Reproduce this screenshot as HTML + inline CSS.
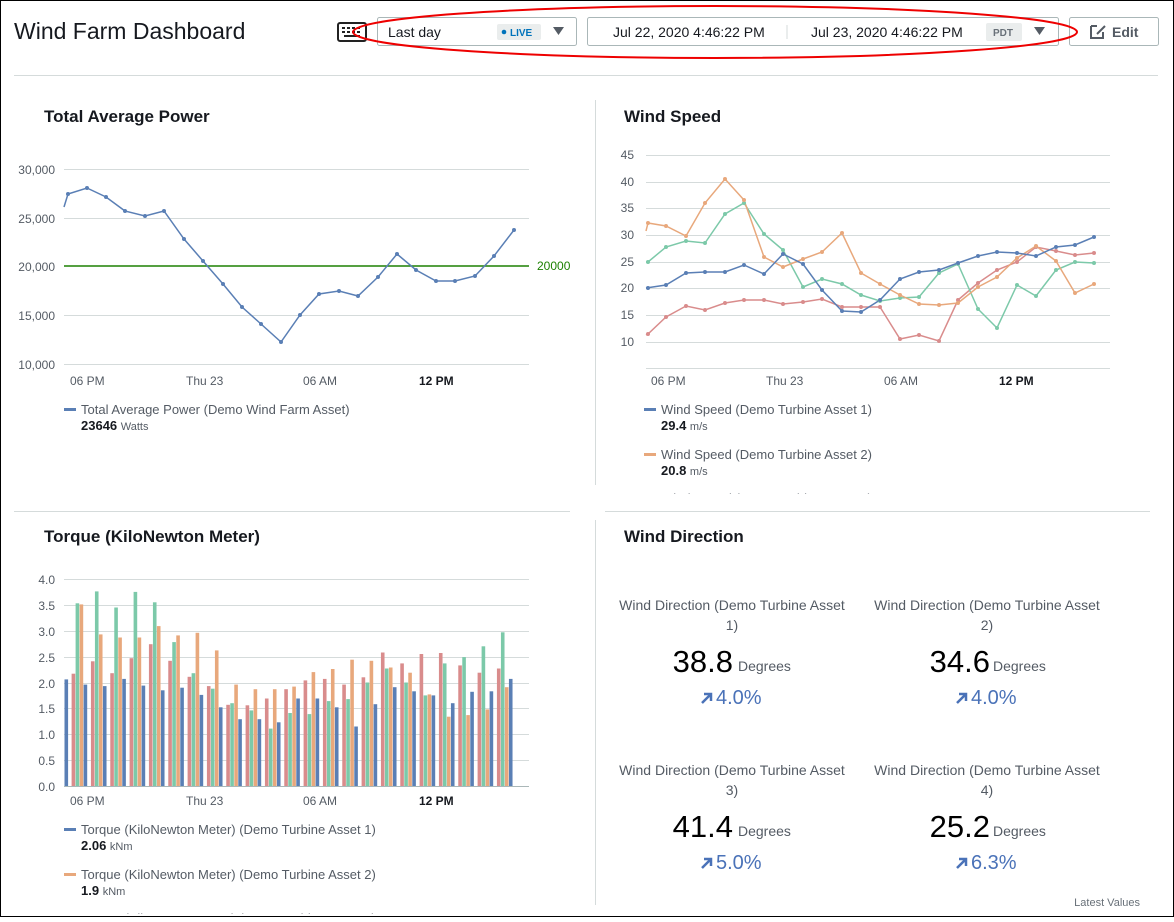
<!DOCTYPE html>
<html><head><meta charset="utf-8"><style>
body{margin:0;width:1174px;height:917px;overflow:hidden;background:#fff;font-family:"Liberation Sans",sans-serif;}
svg text{font-family:"Liberation Sans",sans-serif;}
</style></head><body>
<svg width="1174" height="917" xmlns="http://www.w3.org/2000/svg">
<defs>
<clipPath id="c1"><rect x="600" y="480" width="400" height="14"/></clipPath>
<clipPath id="c2"><rect x="40" y="900" width="500" height="14"/></clipPath>
</defs>
<rect x="0.5" y="0.5" width="1173" height="916" fill="#fff" stroke="#000"/>
<text x="14" y="39" font-size="23" fill="#16191f">Wind Farm Dashboard</text>
<rect x="338" y="23" width="28" height="18" rx="2" fill="#fff" stroke="#222" stroke-width="2"/>
<g fill="#222"><rect x="342" y="27" width="3" height="2"/><rect x="347" y="27" width="3" height="2"/><rect x="352" y="27" width="3" height="2"/><rect x="357" y="27" width="3" height="2"/><rect x="342" y="31" width="3" height="2"/><rect x="347" y="31" width="3" height="2"/><rect x="352" y="31" width="3" height="2"/><rect x="357" y="31" width="3" height="2"/><rect x="344" y="35" width="16" height="2"/></g>
<rect x="377.5" y="17.5" width="199" height="28" rx="2" fill="#fff" stroke="#aab7b8"/>
<text x="388" y="37" font-size="14" fill="#16191f">Last day</text>
<rect x="497" y="24" width="44" height="16" rx="2" fill="#eaeded"/>
<circle cx="504" cy="32" r="2.3" fill="#0073bb"/>
<text x="510" y="36" font-size="10" fill="#0073bb" font-weight="bold">LIVE</text>
<path d="M553 27h11l-5.5 8z" fill="#545b64"/>
<rect x="587.5" y="17.5" width="471" height="28" rx="2" fill="#fff" stroke="#aab7b8"/>
<text x="613" y="37" font-size="14" fill="#16191f">Jul 22, 2020 4:46:22 PM</text>
<line x1="787" y1="25" x2="787" y2="39" stroke="#d5dbdb"/>
<text x="811" y="37" font-size="14" fill="#16191f">Jul 23, 2020 4:46:22 PM</text>
<rect x="986" y="23" width="36" height="18" rx="2" fill="#eaeded"/>
<text x="993" y="36" font-size="10" fill="#687078" font-weight="bold">PDT</text>
<path d="M1034 27h11l-5.5 8z" fill="#545b64"/>
<rect x="1069.5" y="17.5" width="89" height="28" rx="2" fill="#fff" stroke="#aab7b8"/>
<path d="M1091 26h6M1091 26v12h12v-6M1097 34l8-8" stroke="#545b64" stroke-width="2" fill="none"/>
<text x="1112" y="37" font-size="14" fill="#545b64" font-weight="bold">Edit</text>
<ellipse cx="715" cy="32" rx="362" ry="26" fill="none" stroke="#e00" stroke-width="2"/>
<line x1="14" y1="75.5" x2="1158" y2="75.5" stroke="#d5dbdb"/>
<line x1="595.5" y1="100" x2="595.5" y2="485" stroke="#d5dbdb"/>
<line x1="595.5" y1="520" x2="595.5" y2="905" stroke="#d5dbdb"/>
<line x1="14" y1="511.5" x2="570" y2="511.5" stroke="#d5dbdb"/>
<line x1="605" y1="511.5" x2="1150" y2="511.5" stroke="#d5dbdb"/>

<text x="44" y="122" font-size="17" font-weight="bold" fill="#16191f">Total Average Power</text>
<g stroke="#d5dbdb"><line x1="64" y1="169.5" x2="529" y2="169.5"/><line x1="64" y1="218.5" x2="529" y2="218.5"/><line x1="64" y1="315.5" x2="529" y2="315.5"/><line x1="64" y1="364.5" x2="529" y2="364.5"/></g>
<g font-size="12" fill="#545b64" text-anchor="end"><text x="55" y="174">30,000</text><text x="55" y="223">25,000</text><text x="55" y="271">20,000</text><text x="55" y="320">15,000</text><text x="55" y="369">10,000</text></g>
<line x1="64" y1="266" x2="529" y2="266" stroke="#1d8102" stroke-width="1.5"/>
<text x="537" y="270" font-size="12" fill="#1d8102">20000</text>
<polyline fill="none" stroke="#5a7fb5" stroke-width="1.5" points="64,207 68,194 87,188 106,197 125,211 145,216 164,211 184,239 203,261 223,284 242,307 261,324 281,342 300,315 319,294 339,291 358,296 378,277 397,254 416,270 436,281 455,281 475,276 494,256 514,230"/>
<g fill="#5a7fb5"><circle cx="68" cy="194" r="2"/><circle cx="87" cy="188" r="2"/><circle cx="106" cy="197" r="2"/><circle cx="125" cy="211" r="2"/><circle cx="145" cy="216" r="2"/><circle cx="164" cy="211" r="2"/><circle cx="184" cy="239" r="2"/><circle cx="203" cy="261" r="2"/><circle cx="223" cy="284" r="2"/><circle cx="242" cy="307" r="2"/><circle cx="261" cy="324" r="2"/><circle cx="281" cy="342" r="2"/><circle cx="300" cy="315" r="2"/><circle cx="319" cy="294" r="2"/><circle cx="339" cy="291" r="2"/><circle cx="358" cy="296" r="2"/><circle cx="378" cy="277" r="2"/><circle cx="397" cy="254" r="2"/><circle cx="416" cy="270" r="2"/><circle cx="436" cy="281" r="2"/><circle cx="455" cy="281" r="2"/><circle cx="475" cy="276" r="2"/><circle cx="494" cy="256" r="2"/><circle cx="514" cy="230" r="2"/></g>
<g font-size="12" fill="#545b64"><text x="70" y="385">06 PM</text><text x="186" y="385">Thu 23</text><text x="303" y="385">06 AM</text><text x="419" y="385" font-weight="bold" fill="#16191f">12 PM</text></g>
<rect x="64" y="408" width="12" height="3" fill="#5a7fb5"/>
<text x="81" y="414" font-size="13" fill="#545b64">Total Average Power (Demo Wind Farm Asset)</text>
<text x="81" y="430" font-size="13" font-weight="bold" fill="#16191f">23646 <tspan font-size="11" font-weight="normal" fill="#545b64">Watts</tspan></text>

<text x="624" y="122" font-size="17" font-weight="bold" fill="#16191f">Wind Speed</text>
<g stroke="#d5dbdb"><line x1="646" y1="155.5" x2="1110" y2="155.5"/><line x1="646" y1="182.5" x2="1110" y2="182.5"/><line x1="646" y1="208.5" x2="1110" y2="208.5"/><line x1="646" y1="235.5" x2="1110" y2="235.5"/><line x1="646" y1="262.5" x2="1110" y2="262.5"/><line x1="646" y1="288.5" x2="1110" y2="288.5"/><line x1="646" y1="315.5" x2="1110" y2="315.5"/><line x1="646" y1="342.5" x2="1110" y2="342.5"/><line x1="646" y1="368.5" x2="1110" y2="368.5"/></g>
<g font-size="12" fill="#545b64" text-anchor="end"><text x="634" y="159">45</text><text x="634" y="186">40</text><text x="634" y="212">35</text><text x="634" y="239">30</text><text x="634" y="266">25</text><text x="634" y="292">20</text><text x="634" y="319">15</text><text x="634" y="346">10</text></g>
<g fill="none" stroke-width="1.5" stroke-dasharray="">
<polyline stroke="#d98c8c" points="646,335 648,334 666,317 686,306 705,310 725,303 744,300 764,300 783,304 803,302 822,299 842,307 861,307 880,307 900,339 919,335 939,341 958,300 978,283 997,270 1017,262 1036,247 1056,251 1075,255 1094,253"/>
<polyline stroke="#7cc9a9" points="646,262 648,262 666,247 686,241 705,243 725,214 744,203 764,234 783,250 803,287 822,279 842,284 861,295 880,301 900,298 919,297 939,273 958,264 978,309 997,328 1017,285 1036,296 1056,270 1075,262 1094,263"/>
<polyline stroke="#e8a87c" points="646,231 648,223 666,226 686,236 705,203 725,179 744,200 764,257 783,267 803,259 822,252 842,233 861,273 880,284 900,295 919,304 939,305 958,303 978,287 997,277 1017,258 1036,246 1056,261 1075,293 1094,284"/>
<polyline stroke="#5a7fb5" points="646,288 666,285 686,273 705,272 725,272 744,265 764,274 783,254 803,264 822,290 842,311 861,312 880,300 900,279 919,272 939,270 958,263 978,256 997,252 1017,253 1036,256 1056,247 1075,245 1094,237"/>
</g>
<g fill="#d98c8c"><circle cx="648" cy="334" r="2"/><circle cx="666" cy="317" r="2"/><circle cx="686" cy="306" r="2"/><circle cx="705" cy="310" r="2"/><circle cx="725" cy="303" r="2"/><circle cx="744" cy="300" r="2"/><circle cx="764" cy="300" r="2"/><circle cx="783" cy="304" r="2"/><circle cx="803" cy="302" r="2"/><circle cx="822" cy="299" r="2"/><circle cx="842" cy="307" r="2"/><circle cx="861" cy="307" r="2"/><circle cx="880" cy="307" r="2"/><circle cx="900" cy="339" r="2"/><circle cx="919" cy="335" r="2"/><circle cx="939" cy="341" r="2"/><circle cx="958" cy="300" r="2"/><circle cx="978" cy="283" r="2"/><circle cx="997" cy="270" r="2"/><circle cx="1017" cy="262" r="2"/><circle cx="1036" cy="247" r="2"/><circle cx="1056" cy="251" r="2"/><circle cx="1075" cy="255" r="2"/><circle cx="1094" cy="253" r="2"/></g>
<g fill="#7cc9a9"><circle cx="648" cy="262" r="2"/><circle cx="666" cy="247" r="2"/><circle cx="686" cy="241" r="2"/><circle cx="705" cy="243" r="2"/><circle cx="725" cy="214" r="2"/><circle cx="744" cy="203" r="2"/><circle cx="764" cy="234" r="2"/><circle cx="783" cy="250" r="2"/><circle cx="803" cy="287" r="2"/><circle cx="822" cy="279" r="2"/><circle cx="842" cy="284" r="2"/><circle cx="861" cy="295" r="2"/><circle cx="880" cy="301" r="2"/><circle cx="900" cy="298" r="2"/><circle cx="919" cy="297" r="2"/><circle cx="939" cy="273" r="2"/><circle cx="958" cy="264" r="2"/><circle cx="978" cy="309" r="2"/><circle cx="997" cy="328" r="2"/><circle cx="1017" cy="285" r="2"/><circle cx="1036" cy="296" r="2"/><circle cx="1056" cy="270" r="2"/><circle cx="1075" cy="262" r="2"/><circle cx="1094" cy="263" r="2"/></g>
<g fill="#e8a87c"><circle cx="648" cy="223" r="2"/><circle cx="666" cy="226" r="2"/><circle cx="686" cy="236" r="2"/><circle cx="705" cy="203" r="2"/><circle cx="725" cy="179" r="2"/><circle cx="744" cy="200" r="2"/><circle cx="764" cy="257" r="2"/><circle cx="783" cy="267" r="2"/><circle cx="803" cy="259" r="2"/><circle cx="822" cy="252" r="2"/><circle cx="842" cy="233" r="2"/><circle cx="861" cy="273" r="2"/><circle cx="880" cy="284" r="2"/><circle cx="900" cy="295" r="2"/><circle cx="919" cy="304" r="2"/><circle cx="939" cy="305" r="2"/><circle cx="958" cy="303" r="2"/><circle cx="978" cy="287" r="2"/><circle cx="997" cy="277" r="2"/><circle cx="1017" cy="258" r="2"/><circle cx="1036" cy="246" r="2"/><circle cx="1056" cy="261" r="2"/><circle cx="1075" cy="293" r="2"/><circle cx="1094" cy="284" r="2"/></g>
<g fill="#5a7fb5"><circle cx="648" cy="288" r="2"/><circle cx="666" cy="285" r="2"/><circle cx="686" cy="273" r="2"/><circle cx="705" cy="272" r="2"/><circle cx="725" cy="272" r="2"/><circle cx="744" cy="265" r="2"/><circle cx="764" cy="274" r="2"/><circle cx="783" cy="254" r="2"/><circle cx="803" cy="264" r="2"/><circle cx="822" cy="290" r="2"/><circle cx="842" cy="311" r="2"/><circle cx="861" cy="312" r="2"/><circle cx="880" cy="300" r="2"/><circle cx="900" cy="279" r="2"/><circle cx="919" cy="272" r="2"/><circle cx="939" cy="270" r="2"/><circle cx="958" cy="263" r="2"/><circle cx="978" cy="256" r="2"/><circle cx="997" cy="252" r="2"/><circle cx="1017" cy="253" r="2"/><circle cx="1036" cy="256" r="2"/><circle cx="1056" cy="247" r="2"/><circle cx="1075" cy="245" r="2"/><circle cx="1094" cy="237" r="2"/></g>
<g font-size="12" fill="#545b64"><text x="651" y="385">06 PM</text><text x="766" y="385">Thu 23</text><text x="884" y="385">06 AM</text><text x="999" y="385" font-weight="bold" fill="#16191f">12 PM</text></g>
<rect x="644" y="408" width="12" height="3" fill="#5a7fb5"/>
<text x="661" y="414" font-size="13" fill="#545b64">Wind Speed (Demo Turbine Asset 1)</text>
<text x="661" y="430" font-size="13" font-weight="bold" fill="#16191f">29.4 <tspan font-size="11" font-weight="normal" fill="#545b64">m/s</tspan></text>
<rect x="644" y="453" width="12" height="3" fill="#e8a87c"/>
<text x="661" y="459" font-size="13" fill="#545b64">Wind Speed (Demo Turbine Asset 2)</text>
<text x="661" y="475" font-size="13" font-weight="bold" fill="#16191f">20.8 <tspan font-size="11" font-weight="normal" fill="#545b64">m/s</tspan></text>
<text x="661" y="503" font-size="13" fill="#545b64" clip-path="url(#c1)">Wind Speed (Demo Turbine Asset 3)</text>

<text x="44" y="542" font-size="17" font-weight="bold" fill="#16191f">Torque (KiloNewton Meter)</text>
<g stroke="#d5dbdb"><line x1="64" y1="579.5" x2="529" y2="579.5"/><line x1="64" y1="605.5" x2="529" y2="605.5"/><line x1="64" y1="631.5" x2="529" y2="631.5"/><line x1="64" y1="657.5" x2="529" y2="657.5"/><line x1="64" y1="683.5" x2="529" y2="683.5"/><line x1="64" y1="708.5" x2="529" y2="708.5"/><line x1="64" y1="734.5" x2="529" y2="734.5"/><line x1="64" y1="760.5" x2="529" y2="760.5"/><line x1="64" y1="786.5" x2="529" y2="786.5" stroke="#aab7b8"/></g>
<g font-size="12" fill="#545b64" text-anchor="end"><text x="55" y="584">4.0</text><text x="55" y="610">3.5</text><text x="55" y="636">3.0</text><text x="55" y="662">2.5</text><text x="55" y="688">2.0</text><text x="55" y="713">1.5</text><text x="55" y="739">1.0</text><text x="55" y="765">0.5</text><text x="55" y="791">0.0</text></g>
<g transform="translate(0,786) scale(1,-1)">
<rect x="64.5" y="0" width="3.6" height="106.6" fill="#5a7fb5"/>
<g transform="translate(0,0)"><rect x="71.6" width="3.6" height="112.3" fill="#d98c8c"/><rect x="75.6" width="3.6" height="182.7" fill="#7cc9a9"/><rect x="79.6" width="3.6" height="181.6" fill="#e8a87c"/><rect x="83.6" width="3.6" height="101.4" fill="#5a7fb5"/></g>
<g transform="translate(19.33,0)"><rect x="71.6" width="3.6" height="124.7" fill="#d98c8c"/><rect x="75.6" width="3.6" height="194.6" fill="#7cc9a9"/><rect x="79.6" width="3.6" height="151.6" fill="#e8a87c"/><rect x="83.6" width="3.6" height="99.9" fill="#5a7fb5"/></g>
<g transform="translate(38.67,0)"><rect x="71.6" width="3.6" height="112.8" fill="#d98c8c"/><rect x="75.6" width="3.6" height="178.5" fill="#7cc9a9"/><rect x="79.6" width="3.6" height="148.5" fill="#e8a87c"/><rect x="83.6" width="3.6" height="107.1" fill="#5a7fb5"/></g>
<g transform="translate(58,0)"><rect x="71.6" width="3.6" height="127.8" fill="#d98c8c"/><rect x="75.6" width="3.6" height="194.1" fill="#7cc9a9"/><rect x="79.6" width="3.6" height="148.5" fill="#e8a87c"/><rect x="83.6" width="3.6" height="100.4" fill="#5a7fb5"/></g>
<g transform="translate(77.33,0)"><rect x="71.6" width="3.6" height="141.8" fill="#d98c8c"/><rect x="75.6" width="3.6" height="183.7" fill="#7cc9a9"/><rect x="79.6" width="3.6" height="159.9" fill="#e8a87c"/><rect x="83.6" width="3.6" height="95.7" fill="#5a7fb5"/></g>
<g transform="translate(96.67,0)"><rect x="71.6" width="3.6" height="125.2" fill="#d98c8c"/><rect x="75.6" width="3.6" height="143.9" fill="#7cc9a9"/><rect x="79.6" width="3.6" height="150.6" fill="#e8a87c"/><rect x="83.6" width="3.6" height="98.3" fill="#5a7fb5"/></g>
<g transform="translate(116,0)"><rect x="71.6" width="3.6" height="109.2" fill="#d98c8c"/><rect x="75.6" width="3.6" height="112.8" fill="#7cc9a9"/><rect x="79.6" width="3.6" height="153.2" fill="#e8a87c"/><rect x="83.6" width="3.6" height="91.1" fill="#5a7fb5"/></g>
<g transform="translate(135.33,0)"><rect x="71.6" width="3.6" height="99.9" fill="#d98c8c"/><rect x="75.6" width="3.6" height="97.3" fill="#7cc9a9"/><rect x="79.6" width="3.6" height="135.6" fill="#e8a87c"/><rect x="83.6" width="3.6" height="78.7" fill="#5a7fb5"/></g>
<g transform="translate(154.67,0)"><rect x="71.6" width="3.6" height="81.2" fill="#d98c8c"/><rect x="75.6" width="3.6" height="82.8" fill="#7cc9a9"/><rect x="79.6" width="3.6" height="101.4" fill="#e8a87c"/><rect x="83.6" width="3.6" height="66.8" fill="#5a7fb5"/></g>
<g transform="translate(174,0)"><rect x="71.6" width="3.6" height="80.7" fill="#d98c8c"/><rect x="75.6" width="3.6" height="75.6" fill="#7cc9a9"/><rect x="79.6" width="3.6" height="96.8" fill="#e8a87c"/><rect x="83.6" width="3.6" height="66.8" fill="#5a7fb5"/></g>
<g transform="translate(193.33,0)"><rect x="71.6" width="3.6" height="87.5" fill="#d98c8c"/><rect x="75.6" width="3.6" height="57.4" fill="#7cc9a9"/><rect x="79.6" width="3.6" height="96.8" fill="#e8a87c"/><rect x="83.6" width="3.6" height="63.7" fill="#5a7fb5"/></g>
<g transform="translate(212.67,0)"><rect x="71.6" width="3.6" height="96.8" fill="#d98c8c"/><rect x="75.6" width="3.6" height="73" fill="#7cc9a9"/><rect x="79.6" width="3.6" height="99.4" fill="#e8a87c"/><rect x="83.6" width="3.6" height="87.5" fill="#5a7fb5"/></g>
<g transform="translate(232,0)"><rect x="71.6" width="3.6" height="105.6" fill="#d98c8c"/><rect x="75.6" width="3.6" height="71.9" fill="#7cc9a9"/><rect x="79.6" width="3.6" height="113.9" fill="#e8a87c"/><rect x="83.6" width="3.6" height="87.5" fill="#5a7fb5"/></g>
<g transform="translate(251.33,0)"><rect x="71.6" width="3.6" height="107.1" fill="#d98c8c"/><rect x="75.6" width="3.6" height="84.9" fill="#7cc9a9"/><rect x="79.6" width="3.6" height="117" fill="#e8a87c"/><rect x="83.6" width="3.6" height="78.7" fill="#5a7fb5"/></g>
<g transform="translate(270.67,0)"><rect x="71.6" width="3.6" height="101.4" fill="#d98c8c"/><rect x="75.6" width="3.6" height="86.9" fill="#7cc9a9"/><rect x="79.6" width="3.6" height="126.3" fill="#e8a87c"/><rect x="83.6" width="3.6" height="59.5" fill="#5a7fb5"/></g>
<g transform="translate(290,0)"><rect x="71.6" width="3.6" height="108.7" fill="#d98c8c"/><rect x="75.6" width="3.6" height="103.5" fill="#7cc9a9"/><rect x="79.6" width="3.6" height="125.2" fill="#e8a87c"/><rect x="83.6" width="3.6" height="81.8" fill="#5a7fb5"/></g>
<g transform="translate(309.33,0)"><rect x="71.6" width="3.6" height="133.5" fill="#d98c8c"/><rect x="75.6" width="3.6" height="117.5" fill="#7cc9a9"/><rect x="79.6" width="3.6" height="118.5" fill="#e8a87c"/><rect x="83.6" width="3.6" height="98.8" fill="#5a7fb5"/></g>
<g transform="translate(328.67,0)"><rect x="71.6" width="3.6" height="122.6" fill="#d98c8c"/><rect x="75.6" width="3.6" height="103.5" fill="#7cc9a9"/><rect x="79.6" width="3.6" height="113.3" fill="#e8a87c"/><rect x="83.6" width="3.6" height="94.7" fill="#5a7fb5"/></g>
<g transform="translate(348,0)"><rect x="71.6" width="3.6" height="132" fill="#d98c8c"/><rect x="75.6" width="3.6" height="90.6" fill="#7cc9a9"/><rect x="79.6" width="3.6" height="91.6" fill="#e8a87c"/><rect x="83.6" width="3.6" height="90.6" fill="#5a7fb5"/></g>
<g transform="translate(367.33,0)"><rect x="71.6" width="3.6" height="133" fill="#d98c8c"/><rect x="75.6" width="3.6" height="122.6" fill="#7cc9a9"/><rect x="79.6" width="3.6" height="69.3" fill="#e8a87c"/><rect x="83.6" width="3.6" height="82.8" fill="#5a7fb5"/></g>
<g transform="translate(386.67,0)"><rect x="71.6" width="3.6" height="120.6" fill="#d98c8c"/><rect x="75.6" width="3.6" height="128.9" fill="#7cc9a9"/><rect x="79.6" width="3.6" height="70.9" fill="#e8a87c"/><rect x="83.6" width="3.6" height="94.2" fill="#5a7fb5"/></g>
<g transform="translate(406,0)"><rect x="71.6" width="3.6" height="113.3" fill="#d98c8c"/><rect x="75.6" width="3.6" height="139.7" fill="#7cc9a9"/><rect x="79.6" width="3.6" height="76.6" fill="#e8a87c"/><rect x="83.6" width="3.6" height="94.7" fill="#5a7fb5"/></g>
<g transform="translate(425.33,0)"><rect x="71.6" width="3.6" height="117.5" fill="#d98c8c"/><rect x="75.6" width="3.6" height="153.7" fill="#7cc9a9"/><rect x="79.6" width="3.6" height="98.8" fill="#e8a87c"/><rect x="83.6" width="3.6" height="107.1" fill="#5a7fb5"/></g>
</g>
<g font-size="12" fill="#545b64"><text x="70" y="805">06 PM</text><text x="186" y="805">Thu 23</text><text x="303" y="805">06 AM</text><text x="419" y="805" font-weight="bold" fill="#16191f">12 PM</text></g>
<rect x="64" y="828" width="12" height="3" fill="#5a7fb5"/>
<text x="81" y="834" font-size="13" fill="#545b64">Torque (KiloNewton Meter) (Demo Turbine Asset 1)</text>
<text x="81" y="850" font-size="13" font-weight="bold" fill="#16191f">2.06 <tspan font-size="11" font-weight="normal" fill="#545b64">kNm</tspan></text>
<rect x="64" y="873" width="12" height="3" fill="#e8a87c"/>
<text x="81" y="879" font-size="13" fill="#545b64">Torque (KiloNewton Meter) (Demo Turbine Asset 2)</text>
<text x="81" y="895" font-size="13" font-weight="bold" fill="#16191f">1.9 <tspan font-size="11" font-weight="normal" fill="#545b64">kNm</tspan></text>
<text x="81" y="923" font-size="13" fill="#545b64" clip-path="url(#c2)">Torque (KiloNewton Meter) (Demo Turbine Asset 3)</text>

<text x="624" y="542" font-size="17" font-weight="bold" fill="#16191f">Wind Direction</text>
<g font-size="14" fill="#545b64" text-anchor="middle">
<text x="732" y="610">Wind Direction (Demo Turbine Asset</text><text x="732" y="630">1)</text>
<text x="987" y="610">Wind Direction (Demo Turbine Asset</text><text x="987" y="630">2)</text>
<text x="732" y="775">Wind Direction (Demo Turbine Asset</text><text x="732" y="795">3)</text>
<text x="987" y="775">Wind Direction (Demo Turbine Asset</text><text x="987" y="795">4)</text>
</g>
<g font-size="31" fill="#000" text-anchor="end"><text x="733" y="672">38.8</text><text x="990" y="672">34.6</text><text x="733" y="837">41.4</text><text x="990" y="837">25.2</text></g>
<g font-size="14" fill="#545b64"><text x="738" y="671">Degrees</text><text x="993" y="671">Degrees</text><text x="738" y="836">Degrees</text><text x="993" y="836">Degrees</text></g>
<g font-size="20" fill="#4a72b8"><text x="716" y="704">4.0%</text><text x="971" y="704">4.0%</text><text x="716" y="869">5.0%</text><text x="971" y="869">6.3%</text></g>
<g stroke="#4a72b8" stroke-width="2.5" fill="none"><path d="M702 703l9-9M704 694h7v7"/><path d="M957 703l9-9M959 694h7v7"/><path d="M702 868l9-9M704 859h7v7"/><path d="M957 868l9-9M959 859h7v7"/></g>
<text x="1140" y="906" font-size="11" fill="#687078" text-anchor="end">Latest Values</text>
</svg>
</body></html>
